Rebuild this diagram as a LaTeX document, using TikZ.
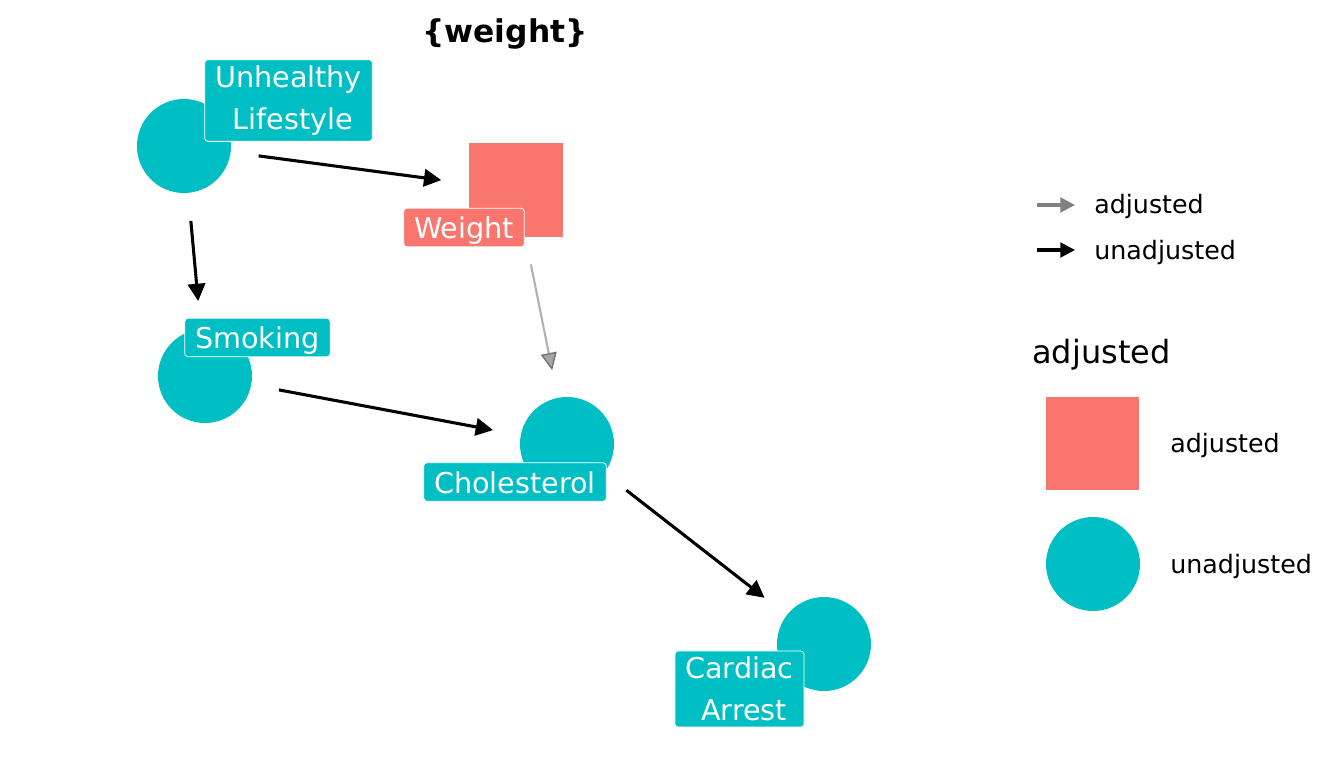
\documentclass[tikz,border=0pt]{standalone}
\usepackage{fontspec}
\setmainfont{DejaVu Sans}
\usetikzlibrary{arrows.meta}
\definecolor{unadj}{HTML}{00BFC4}
\definecolor{adj}{HTML}{F8766D}

\begin{document}
\begin{tikzpicture}[x=0.75pt,y=-0.75pt]
\tikzstyle{dot}=[circle,fill=unadj,minimum size=70.5pt,inner sep=0pt]
\tikzstyle{sq}=[rectangle,fill=adj,minimum size=70pt,inner sep=0pt]
\tikzstyle{tag}=[rectangle,rounded corners=2.5pt,draw=white,line width=0.6pt,text=white,inner xsep=7.8pt,inner ysep=3.5pt,text height=19.5pt,text depth=2.5pt,font=\fontsize{21.5}{31.5}\selectfont]
\tikzstyle{tagtwo}=[rectangle,rounded corners=2.5pt,draw=white,line width=0.6pt,text=white,inner xsep=7.8pt,inner ysep=4.5pt,align=center,font=\fontsize{21.5}{31.5}\selectfont]
\tikzstyle{edge}=[line width=2.3pt,-{Triangle[length=13pt,width=13pt]},shorten >=21pt,shorten <=21pt]
\tikzstyle{adjedge}=[line width=1.6pt,black!30,-{Triangle[length=13pt,width=12pt,fill=black!35,color=black!55,line width=1pt]},shorten >=21pt,shorten <=21pt]
\tikzstyle{key}=[anchor=base west,inner sep=0pt,font=\fontsize{19}{23}\selectfont]
\useasboundingbox (0,0) rectangle (1344,768);
% title
\node[anchor=base,inner sep=0pt,font=\fontsize{23.5}{27}\selectfont\bfseries] (title) at (505,42) {\{weight\}};
% dag nodes
\node[dot] (ul) at (184,146) {};
\node[sq] (wt) at (516,190) {};
\node[dot] (sm) at (205,376) {};
\node[dot] (ch) at (567,444) {};
\node[dot] (ca) at (824,644) {};
% edges
\draw[edge] (ul) -- (wt);
\draw[edge] (ul) -- (sm);
\draw[edge] (sm) -- (ch);
\draw[edge] (ch) -- (ca);
\draw[adjedge] (wt) -- (ch);
% labels
\node[tagtwo,fill=unadj] (ullab) at (288.5,100.5) {Unhealthy\\\hspace*{0.32em}Lifestyle};
\node[tag,fill=adj] (wtlab) at (464,227.5) {Weight};
\node[tag,fill=unadj] (smlab) at (257.5,337.5) {Smoking};
\node[tag,fill=unadj] (chlab) at (515,482) {Cholesterol};
\node[tagtwo,fill=unadj] (calab) at (739.5,689) {Cardiac\\\hspace*{0.32em}Arrest};
% legend: edges
\coordinate (a1) at (1037,205);
\coordinate (a2) at (1075,205);
\coordinate (u1) at (1037,250);
\coordinate (u2) at (1075,250);
\draw[line width=2.3pt,black!50,-{Triangle[length=11pt,width=11pt]}] (a1) -- (a2);
\draw[line width=2.3pt,-{Triangle[length=11pt,width=11pt]}] (u1) -- (u2);
\node[key] (akey) at (1094,213) {adjusted};
\node[key] (ukey) at (1094,259) {unadjusted};
% legend: shapes
\node[anchor=base west,inner sep=0pt,font=\fontsize{24}{28}\selectfont] (legtitle) at (1032,363) {adjusted};
\node[sq] (legsq) at (1092.5,443.5) {};
\node[dot] (legdot) at (1093,564) {};
\node[key] (sqkey) at (1170,452) {adjusted};
\node[key] (dotkey) at (1170,573) {unadjusted};
\end{tikzpicture}
\end{document}
